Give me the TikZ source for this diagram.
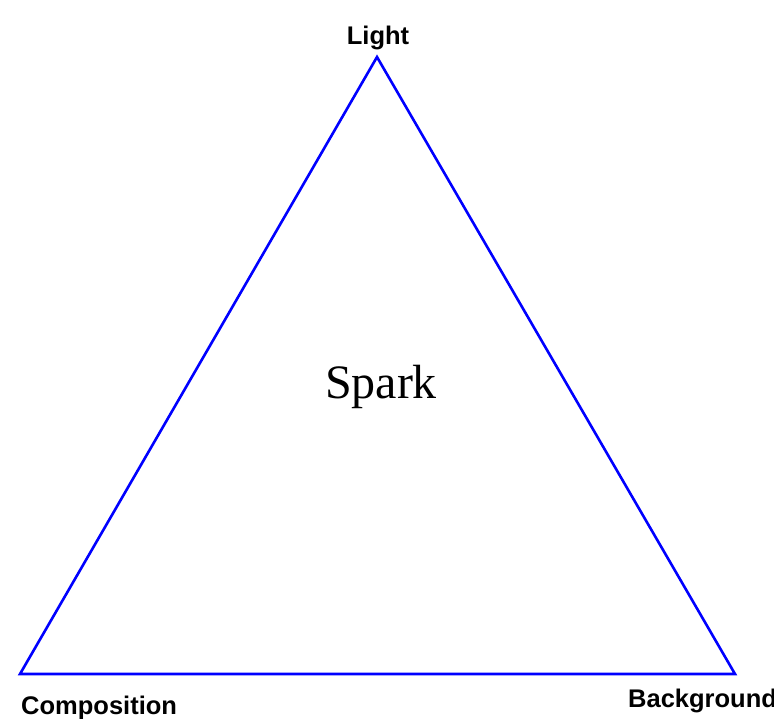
\documentclass[tikz,border=0pt]{standalone}
\usepackage{fontspec}
\newfontfamily\cornerfont{Liberation Sans}
\newfontfamily\sparkfont{Liberation Serif}
\usepackage{tikz}
\usetikzlibrary{positioning}

\begin{document}
\begin{tikzpicture}[
    x=1pt, y=-1pt,
    edge/.style={draw=blue, line width=2.6pt, line join=miter},
    corner/.style={inner sep=0pt, font=\cornerfont\bfseries\fontsize{25.5}{30}\selectfont},
    centre/.style={inner sep=0pt, font=\sparkfont\fontsize{48}{56}\selectfont}
]
\useasboundingbox (0,0) rectangle (774,718);

% Corners of the triangle
\coordinate (top) at (377,57);
\coordinate (left) at (20,674);
\coordinate (right) at (735,674);

% Triangle
\draw[edge] (top) -- (right) -- (left) -- cycle;

% Corner labels
\node[corner, anchor=base] (light) at (378,44) {Light};
\node[corner, anchor=base west] (composition) at (21,714) {Composition};
\node[corner, anchor=base west] (background) at (628,707) {Background};

% Centre label
\node[centre, anchor=base] (spark) at (381,398) {Spark};

\end{tikzpicture}
\end{document}
